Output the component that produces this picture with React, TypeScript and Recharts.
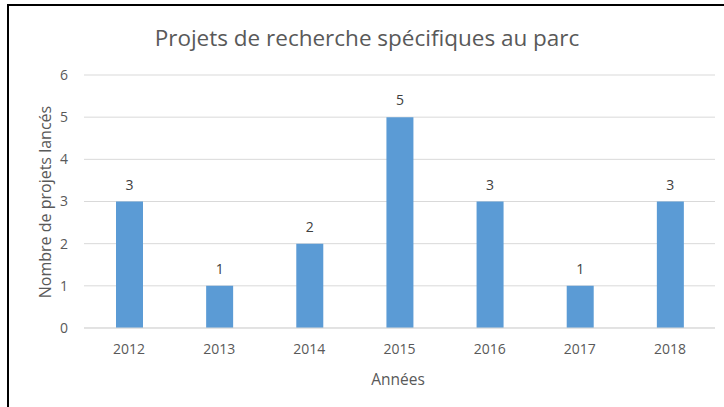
import React from "react";
import { BarChart, Bar, XAxis, YAxis, CartesianGrid, LabelList } from "recharts";

const years = ["2012", "2013", "2014", "2015", "2016", "2017", "2018"];
const projects = [3, 1, 2, 5, 3, 1, 3];
const yTicks = [0, 1, 2, 3, 4, 5, 6];

const title = "Projets de recherche spécifiques au parc";
const xTitle = "Années";
const yTitle = "Nombre de projets lancés";

const data = years.map((y, i) => ({ year: y, value: projects[i] }));

const font = "'Open Sans', 'Liberation Sans', sans-serif";

export default function App() {
  return (
    <div style={{ position: "absolute", left: 0, top: 0, width: 724, height: 407, background: "#fff", overflow: "hidden", fontFamily: font }}>
      <div style={{ position: "absolute", left: 7, top: 4, width: 800, height: 2, background: "#000" }} />
      <div style={{ position: "absolute", left: 7, top: 4, width: 2, height: 500, background: "#000" }} />
      <div style={{ position: "absolute", left: 0, width: 724, top: 23, textAlign: "center", paddingLeft: 10, boxSizing: "border-box", fontSize: 22.5, color: "#595959", lineHeight: "30px" }}>
        {title}
      </div>
      <div style={{ position: "absolute", left: 84, width: 628, top: 369, textAlign: "center", fontSize: 15.5, color: "#595959", lineHeight: "20px" }}>
        {xTitle}
      </div>
      <div style={{ position: "absolute", left: 45 - 110, top: 202 - 10, width: 220, height: 20, textAlign: "center", fontSize: 16, color: "#595959", lineHeight: "20px", transform: "rotate(-90deg)", transformOrigin: "110px 10px", whiteSpace: "nowrap" }}>
        {yTitle}
      </div>
      <div style={{ position: "absolute", left: 0, top: 0 }}>
        <BarChart width={724} height={407} data={data} margin={{ top: 75, right: 9, left: 24, bottom: 49 }}>
          <CartesianGrid vertical={false} stroke="#d9d9d9" />
          <XAxis
            dataKey="year"
            height={30}
            axisLine={{ stroke: "#d9d9d9" }}
            tickLine={false}
            tickMargin={10}
            tick={{ fill: "#595959", fontSize: 14, fontFamily: font }}
          />
          <YAxis
            width={60}
            domain={[0, 6]}
            ticks={yTicks}
            axisLine={false}
            tickLine={false}
            tickMargin={10}
            tick={{ fill: "#595959", fontSize: 14, fontFamily: font }}
          />
          <Bar dataKey="value" fill="#5B9BD5" barSize={27} isAnimationActive={false}>
            <LabelList dataKey="value" position="top" offset={12} fill="#404040" fontSize={14} fontFamily={font} />
          </Bar>
        </BarChart>
      </div>
    </div>
  );
}
